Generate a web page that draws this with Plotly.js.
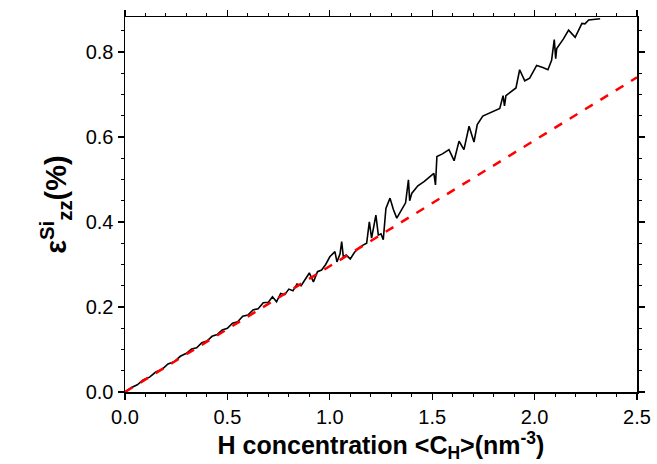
<!DOCTYPE html>
<html><head><meta charset="utf-8">
<script src="https://cdn.plot.ly/plotly-3.0.1.min.js"></script>
<style>html,body{margin:0;padding:0;background:#fff;}</style>
</head><body>
<div id="chart" style="width:657px;height:464px;"></div>
<script>
const simX = [0, 0.03, 0.06, 0.09, 0.12, 0.15, 0.18, 0.21, 0.24, 0.27, 0.30, 0.325, 0.35, 0.375, 0.40, 0.425, 0.45, 0.475, 0.50, 0.525, 0.55, 0.575, 0.60, 0.625, 0.65, 0.675, 0.70, 0.72, 0.74, 0.76, 0.78, 0.80, 0.82, 0.84, 0.86, 0.88, 0.90, 0.92, 0.94, 0.96, 0.98, 1.00, 1.025, 1.035, 1.05, 1.058, 1.066, 1.08, 1.10, 1.12, 1.14, 1.16, 1.18, 1.193, 1.204, 1.215, 1.225, 1.237, 1.25, 1.261, 1.274, 1.294, 1.31, 1.327, 1.35, 1.37, 1.384, 1.39, 1.40, 1.43, 1.46, 1.49, 1.508, 1.516, 1.523, 1.55, 1.582, 1.607, 1.631, 1.655, 1.68, 1.704, 1.72, 1.747, 1.79, 1.83, 1.846, 1.853, 1.86, 1.909, 1.927, 1.952, 1.976, 2.01, 2.04, 2.065, 2.083, 2.096, 2.103, 2.108, 2.14, 2.166, 2.198, 2.231, 2.246, 2.264, 2.32];
const simY = [0, 0.010, 0.017, 0.029, 0.035, 0.047, 0.053, 0.066, 0.071, 0.084, 0.091, 0.101, 0.104, 0.116, 0.120, 0.131, 0.135, 0.146, 0.150, 0.162, 0.165, 0.178, 0.181, 0.193, 0.196, 0.210, 0.211, 0.224, 0.212, 0.232, 0.229, 0.242, 0.238, 0.254, 0.250, 0.266, 0.280, 0.259, 0.283, 0.287, 0.300, 0.318, 0.330, 0.306, 0.325, 0.354, 0.318, 0.322, 0.313, 0.328, 0.338, 0.345, 0.350, 0.400, 0.362, 0.390, 0.416, 0.369, 0.372, 0.358, 0.432, 0.456, 0.430, 0.409, 0.430, 0.445, 0.499, 0.450, 0.467, 0.485, 0.495, 0.508, 0.514, 0.487, 0.554, 0.560, 0.570, 0.544, 0.590, 0.570, 0.625, 0.588, 0.629, 0.649, 0.658, 0.667, 0.697, 0.673, 0.697, 0.715, 0.758, 0.732, 0.738, 0.768, 0.763, 0.758, 0.780, 0.829, 0.784, 0.808, 0.830, 0.851, 0.834, 0.867, 0.866, 0.875, 0.878];
const fitX = [0, 2.5];
const fitY = [0, 0.74];
const xTicks = [0, 0.5, 1.0, 1.5, 2.0, 2.5];
const yTicks = [0, 0.2, 0.4, 0.6, 0.8];

const traces = [
  {x: simX, y: simY, mode: 'lines', line: {color: '#000', width: 1.6}, hoverinfo: 'skip'},
  {x: fitX, y: fitY, mode: 'lines', line: {color: '#ff0000', width: 2.5, dash: 'dash'}, hoverinfo: 'skip'}
];
const fontFam = '"Liberation Sans", Arial, sans-serif';
const layout = {
  width: 657, height: 464,
  margin: {l: 125, r: 20, t: 17, b: 72},
  paper_bgcolor: '#fff', plot_bgcolor: '#fff',
  showlegend: false,
  font: {family: fontFam, color: '#000', size: 20},
  xaxis: {
    range: [0, 2.5], tickvals: xTicks, ticktext: xTicks.map(v => v.toFixed(1)),
    ticks: 'outside', ticklen: 6, tickwidth: 1.3, tickcolor: '#000',
    minor: {dtick: 0.1, ticks: 'outside', ticklen: 3, tickwidth: 1, tickcolor: '#000'},
    showline: true, linecolor: '#000', linewidth: 1.5, mirror: 'allticks',
    showgrid: false, zeroline: false,
    tickfont: {size: 20, family: fontFam},
    title: {text: '<b>H concentration &lt;C<sub>H</sub>&gt;(nm<sup>-3</sup>)</b>', font: {size: 25, family: fontFam}, standoff: 1}
  },
  yaxis: {
    range: [0, 0.882], tickvals: yTicks, ticktext: yTicks.map(v => v.toFixed(1)),
    ticks: 'outside', ticklen: 6, tickwidth: 1.3, tickcolor: '#000',
    minor: {dtick: 0.05, ticks: 'outside', ticklen: 3, tickwidth: 1, tickcolor: '#000'},
    showline: true, linecolor: '#000', linewidth: 1.5, mirror: 'allticks',
    showgrid: false, zeroline: false,
    tickfont: {size: 20, family: fontFam},
    title: {text: '<b>ε<sup>Si</sup><sub>zz</sub>(%)</b>', font: {size: 29, family: fontFam}, standoff: 10}
  }
};
Plotly.newPlot('chart', traces, layout, {displayModeBar: false, staticPlot: true});
</script>
</body></html>
